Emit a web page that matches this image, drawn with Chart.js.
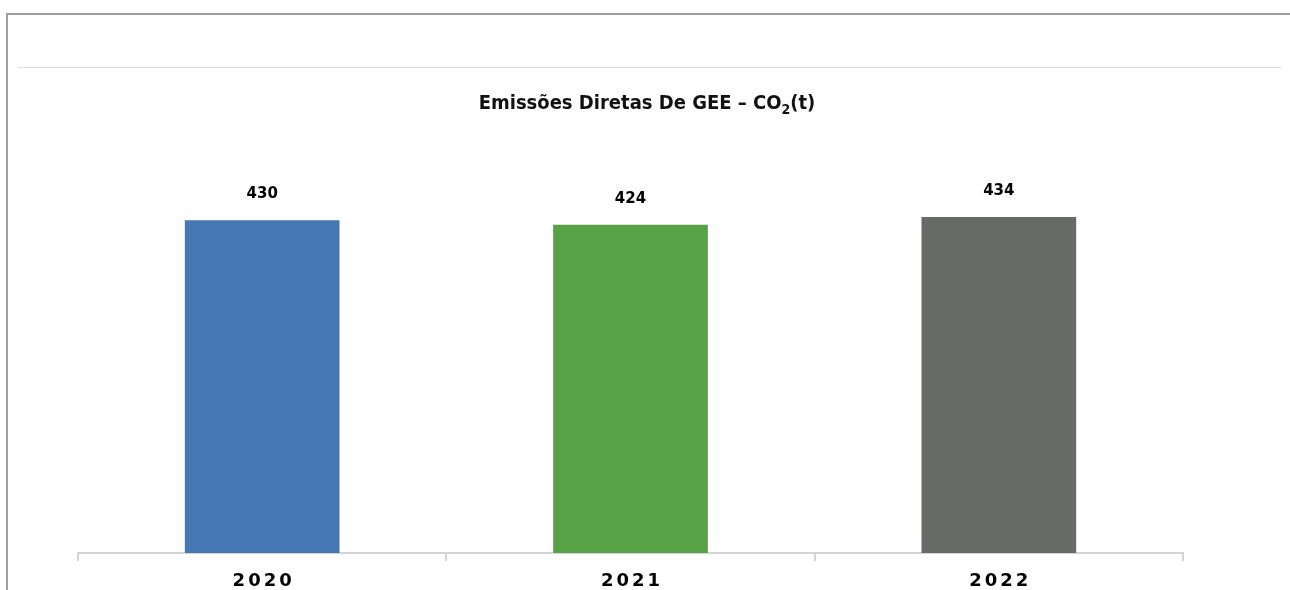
<!DOCTYPE html>
<html>
<head>
<meta charset="utf-8">
<script src="https://cdn.jsdelivr.net/npm/chart.js@4/dist/chart.umd.min.js"></script>
<style>
  html, body { margin: 0; padding: 0; background: #fff; overflow: hidden; }
  #frame {
    position: absolute; left: 6px; top: 13px; width: 1300px; height: 600px;
    border-top: 2px solid #a0a0a0; border-left: 2px solid #a0a0a0;
  }
  #rule {
    position: absolute; left: 18px; top: 67px; width: 1264px; height: 0;
    border-top: 1px solid #dcdcdc;
  }
  #wrap { position: absolute; left: 0; top: 0; width: 1290px; height: 590px; }
</style>
</head>
<body>
<div id="frame"></div>
<div id="rule"></div>
<div id="wrap"><canvas id="chart"></canvas></div>
<script>
const years = ["2020", "2021", "2022"];
const emissions = [430, 424, 434];
const barColors = ["#4676b3", "#57a246", "#686a68"];

// title with a real subscript on the "2"
const titlePlugin = {
  id: "titleSub",
  afterDraw(chart) {
    const ctx = chart.ctx;
    const main = "Emissões Diretas De GEE – CO";
    const sub = "2";
    const tail = "(t)";
    ctx.save();
    ctx.fillStyle = "#111";
    ctx.textBaseline = "alphabetic";
    const big = "bold 20px 'DejaVu Sans Condensed'";
    const small = "bold 14px 'DejaVu Sans Condensed'";
    ctx.font = big;
    const w1 = ctx.measureText(main).width;
    const w3 = ctx.measureText(tail).width;
    ctx.font = small;
    const w2 = ctx.measureText(sub).width;
    let x = 647 - (w1 + w2 + w3) / 2;
    const y = 109;
    ctx.textAlign = "left";
    ctx.font = big;
    ctx.fillText(main, x, y);
    x += w1;
    ctx.font = small;
    ctx.fillText(sub, x, y + 5);
    x += w2;
    ctx.font = big;
    ctx.fillText(tail, x, y);
    ctx.restore();
  }
};

// value labels above bars and spaced-out year labels under the axis
const labelPlugin = {
  id: "labels",
  afterDatasetsDraw(chart) {
    const ctx = chart.ctx;
    const meta = chart.getDatasetMeta(0);
    ctx.save();
    ctx.fillStyle = "#000";
    ctx.textAlign = "center";
    ctx.textBaseline = "middle";
    ctx.font = "bold 15px 'DejaVu Sans'";
    meta.data.forEach((bar, i) => {
      ctx.fillText(String(emissions[i]), bar.x, bar.y - 26);
    });
    const xs = chart.scales.x;
    ctx.font = "bold 18px 'DejaVu Sans'";
    ctx.letterSpacing = "3px";
    years.forEach((yr, i) => {
      ctx.fillText(yr, xs.getPixelForValue(i) + 1.5, 581);
    });
    ctx.restore();
  }
};

new Chart(document.getElementById("chart"), {
  type: "bar",
  data: {
    labels: years,
    datasets: [{
      data: emissions,
      backgroundColor: barColors,
      borderWidth: 0,
      categoryPercentage: 1,
      barPercentage: 0.42
    }]
  },
  options: {
    responsive: true,
    maintainAspectRatio: false,
    animation: false,
    layout: { padding: { left: 78, right: 107, top: 166, bottom: 0 } },
    plugins: { legend: { display: false }, tooltip: { enabled: false } },
    scales: {
      x: {
        offset: true,
        ticks: { display: false },
        grid: {
          offset: true,
          drawOnChartArea: false,
          color: "#d4d4d4",
          lineWidth: 2,
          tickLength: 8
        },
        border: { color: "#d4d4d4", width: 2 },
        afterFit(scale) { scale.height = 37; }
      },
      y: {
        display: false,
        min: 0,
        max: 500
      }
    }
  },
  plugins: [titlePlugin, labelPlugin]
});
</script>
</body>
</html>
